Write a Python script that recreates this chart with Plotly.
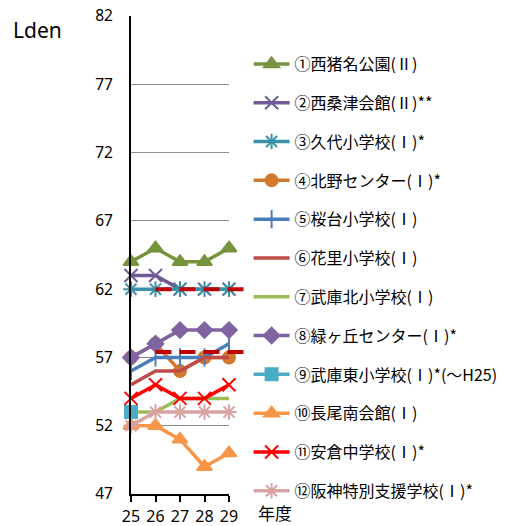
import plotly.graph_objects as go

# 年度 (平成)
years = [25, 26, 27, 28, 29]
tick_vals = [47, 52, 57, 62, 67, 72, 77, 82]

names = [
    "①西猪名公園(Ⅱ)",
    "②西桑津会館(Ⅱ)**",
    "③久代小学校(Ⅰ)*",
    "④北野センター(Ⅰ)*",
    "⑤桜台小学校(Ⅰ)",
    "⑥花里小学校(Ⅰ)",
    "⑦武庫北小学校(Ⅰ)",
    "⑧緑ヶ丘センター(Ⅰ)*",
    "⑨武庫東小学校(Ⅰ)*(～H25)",
    "⑩長尾南会館(Ⅰ)",
    "⑪安倉中学校(Ⅰ)*",
    "⑫阪神特別支援学校(Ⅰ)*",
]

# Lden values per station
s01 = [64, 65, 64, 64, 65]
s02 = [63, 63, 62, 62, 62]
s03 = [62, 62, 62, 62, 62]
s04 = [57, 58, 56, 57, 57]
s05 = [56, 57, 57, 57, 58]
s06 = [55, 56, 56, 57, 57]
s07 = [53, 53, 54, 54, 54]
s08 = [57, 58, 59, 59, 59]
s09 = [53, None, None, None, None]
s10 = [52, 52, 51, 49, 50]
s11 = [54, 55, 54, 54, 55]
s12 = [52, 53, 53, 53, 53]
series = [s01, s02, s03, s04, s05, s06, s07, s08, s09, s10, s11, s12]

colors = ["#77933C", "#6F5A96", "#3A92A8", "#D3782F", "#4A7EBB", "#BE4B48",
          "#9BBB59", "#8064A2", "#4BACC6", "#F79646", "#FF0000", "#D9A3A3"]
symbols = ["triangle-up", "x-thin-open", "asterisk-open", "circle", "line-ns-open",
           None, None, "diamond", "square", "triangle-up", "x-thin-open", "asterisk-open"]
sizes = [13, 13, 13, 12, 13, 0, 0, 12, 12, 13, 13, 13]

# reference levels (class II / class I)
ref_levels = [62, 57.4]
ref_start_year = 26

fig = go.Figure()
for i, (nm, ys) in enumerate(zip(names, series)):
    sym = symbols[i]
    mode = "lines+markers" if sym else "lines"
    marker = dict(symbol=sym, size=sizes[i], color=colors[i],
                  line=dict(color=colors[i], width=2)) if sym else None
    fig.add_trace(go.Scatter(
        x=years, y=ys, name=nm, mode=mode,
        line=dict(color=colors[i], width=3.5),
        marker=marker, legendgroup=f"g{i}", cliponaxis=False,
    ))

x_min, x_max = years[0], years[-1]
for lvl in ref_levels:
    fig.add_shape(type="line", xref="paper", yref="y",
                  x0=(ref_start_year - x_min) / (x_max - x_min), x1=1.16,
                  y0=lvl, y1=lvl,
                  line=dict(color="#C00000", width=4, dash="16px,8px"))

fig.update_layout(
    width=516, height=526,
    margin=dict(l=131, r=287, t=16, b=32, autoexpand=False),
    paper_bgcolor="white", plot_bgcolor="white",
    font=dict(family="Noto Sans CJK JP, Noto Sans", color="#000000"),
    showlegend=True,
    legend=dict(x=1.2, y=0.935, xanchor="left", yanchor="top",
                font=dict(size=16, family="Noto Sans CJK JP"),
                tracegroupgap=15, itemwidth=36, bgcolor="rgba(0,0,0,0)"),
    xaxis=dict(range=[x_min, x_max], tickvals=years, ticktext=[str(y) for y in years],
               showgrid=False, showline=True, linecolor="black", linewidth=2,
               ticks="outside", ticklen=6, tickcolor="black", tickwidth=1.5,
               ticklabelstandoff=1, tickfont=dict(size=16, family="Noto Sans"),
               zeroline=False, automargin=False),
    yaxis=dict(range=[47, 82], tickvals=tick_vals, showgrid=True,
               gridcolor="#8C8C8C", gridwidth=1, showline=True, linecolor="black",
               linewidth=2, ticks="", ticklabelstandoff=13,
               tickfont=dict(size=15.5, family="Noto Sans"), zeroline=False,
               automargin=False),
    annotations=[
        dict(text="Lden", xref="paper", yref="paper", x=(11 - 131) / 98, y=(494 - 30) / 478,
             xanchor="left", yanchor="middle", showarrow=False,
             font=dict(size=21, family="Noto Sans")),
        dict(text="年度", xref="paper", yref="paper", x=(256 - 131) / 98, y=(494 - 512) / 478,
             xanchor="left", yanchor="middle", showarrow=False,
             font=dict(size=17, family="Noto Sans CJK JP")),
    ],
)

fig.write_html("out.html")
